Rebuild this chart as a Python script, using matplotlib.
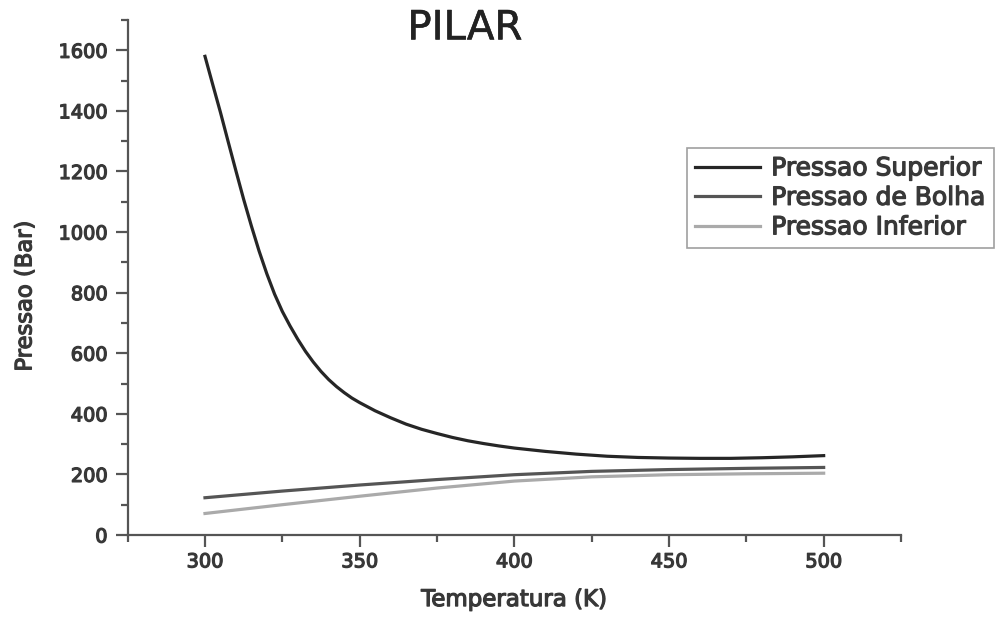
import matplotlib
matplotlib.use("Agg")
import matplotlib.pyplot as plt
import matplotlib.patheffects as pe
from matplotlib.ticker import MultipleLocator

plt.rcParams['font.family'] = ['DejaVu Sans']

# Data
temp_sup = [300, 302.5, 305, 307.5, 310, 312.5, 315, 317.5, 320, 322.5, 325,
            327.5, 330, 332.5, 335, 337.5, 340, 342.5, 345, 347.5, 350, 355,
            360, 365, 370, 375, 380, 385, 390, 395, 400, 410, 420, 430, 440,
            450, 460, 470, 480, 490, 500]
p_superior = [1580, 1487, 1395, 1298, 1202, 1108, 1020, 937, 862, 795, 738,
              690, 646, 606, 571, 540, 513, 490, 470, 452, 437, 410,
              387, 366, 349, 335, 322, 311, 302, 294, 287, 276, 267, 260, 256,
              254, 253, 253, 255, 258, 262]

temp_low = [300, 325, 350, 375, 400, 425, 450, 475, 500]
p_bolha = [123, 145, 165, 183, 199, 210, 216, 220, 223]
p_inferior = [71, 100, 128, 155, 178, 192, 199, 202, 204]

labels = ["Pressao Superior", "Pressao de Bolha", "Pressao Inferior"]
xticks = [300, 350, 400, 450, 500]
yticks = [0, 200, 400, 600, 800, 1000, 1200, 1400, 1600]

txt = '#383838'
spine_c = '#555555'
thick = [pe.withStroke(linewidth=0.9, foreground=txt)]

fig = plt.figure(figsize=(10.02, 6.17), dpi=100)
ax = fig.add_axes([0.1274, 0.1329, 0.7718, 0.8347])

ax.plot(temp_sup, p_superior, color='#262626', lw=2.3, label=labels[0],
        solid_joinstyle='round')
ax.plot(temp_low, p_bolha, color='#555555', lw=2.3, label=labels[1])
ax.plot(temp_low, p_inferior, color='#aaaaaa', lw=2.3, label=labels[2])

ax.set_xlim(275, 525)
ax.set_ylim(0, 1700)
ax.set_xticks(xticks)
ax.set_yticks(yticks)
ax.xaxis.set_minor_locator(MultipleLocator(25))
ax.yaxis.set_minor_locator(MultipleLocator(100))

for s in ['top', 'right']:
    ax.spines[s].set_visible(False)
for s in ['left', 'bottom']:
    ax.spines[s].set_color(spine_c)
    ax.spines[s].set_linewidth(1.6)

ax.tick_params(which='major', direction='out', length=8.5, width=1.6,
               color=spine_c, labelsize=13.9, labelcolor=txt)
ax.tick_params(which='minor', direction='out', length=4.8, width=1.6,
               color=spine_c)
ax.tick_params(axis='y', which='major', pad=6)
ax.tick_params(axis='x', which='major', pad=4)
for lab in ax.get_xticklabels() + ax.get_yticklabels():
    lab.set_path_effects(thick)

xl = ax.set_xlabel("Temperatura (K)", fontsize=16.5, color=txt)
yl = ax.set_ylabel("Pressao (Bar)", fontsize=16.3, color=txt)
xl.set_path_effects(thick)
yl.set_path_effects(thick)
ax.xaxis.set_label_coords(0.5, -0.103)
ax.yaxis.set_label_coords(-0.118, 0.464)

fig.text(0.464, 0.954, "PILAR", fontsize=29, color='#222222',
         ha='center', va='center',
         path_effects=[pe.withStroke(linewidth=0.4, foreground='#222222')])

leg = ax.legend(loc='upper left', bbox_to_anchor=(0.6856, 0.760),
                bbox_transform=fig.transFigure, borderaxespad=0,
                fontsize=18, frameon=True, fancybox=False,
                handlelength=2.6, handletextpad=0.44, labelspacing=0.22,
                borderpad=0.33)
leg.get_frame().set_edgecolor('#888888')
leg.get_frame().set_linewidth(1.2)
for t in leg.get_texts():
    t.set_color(txt)
    t.set_path_effects(thick)

fig.savefig("out.png", dpi=100)
